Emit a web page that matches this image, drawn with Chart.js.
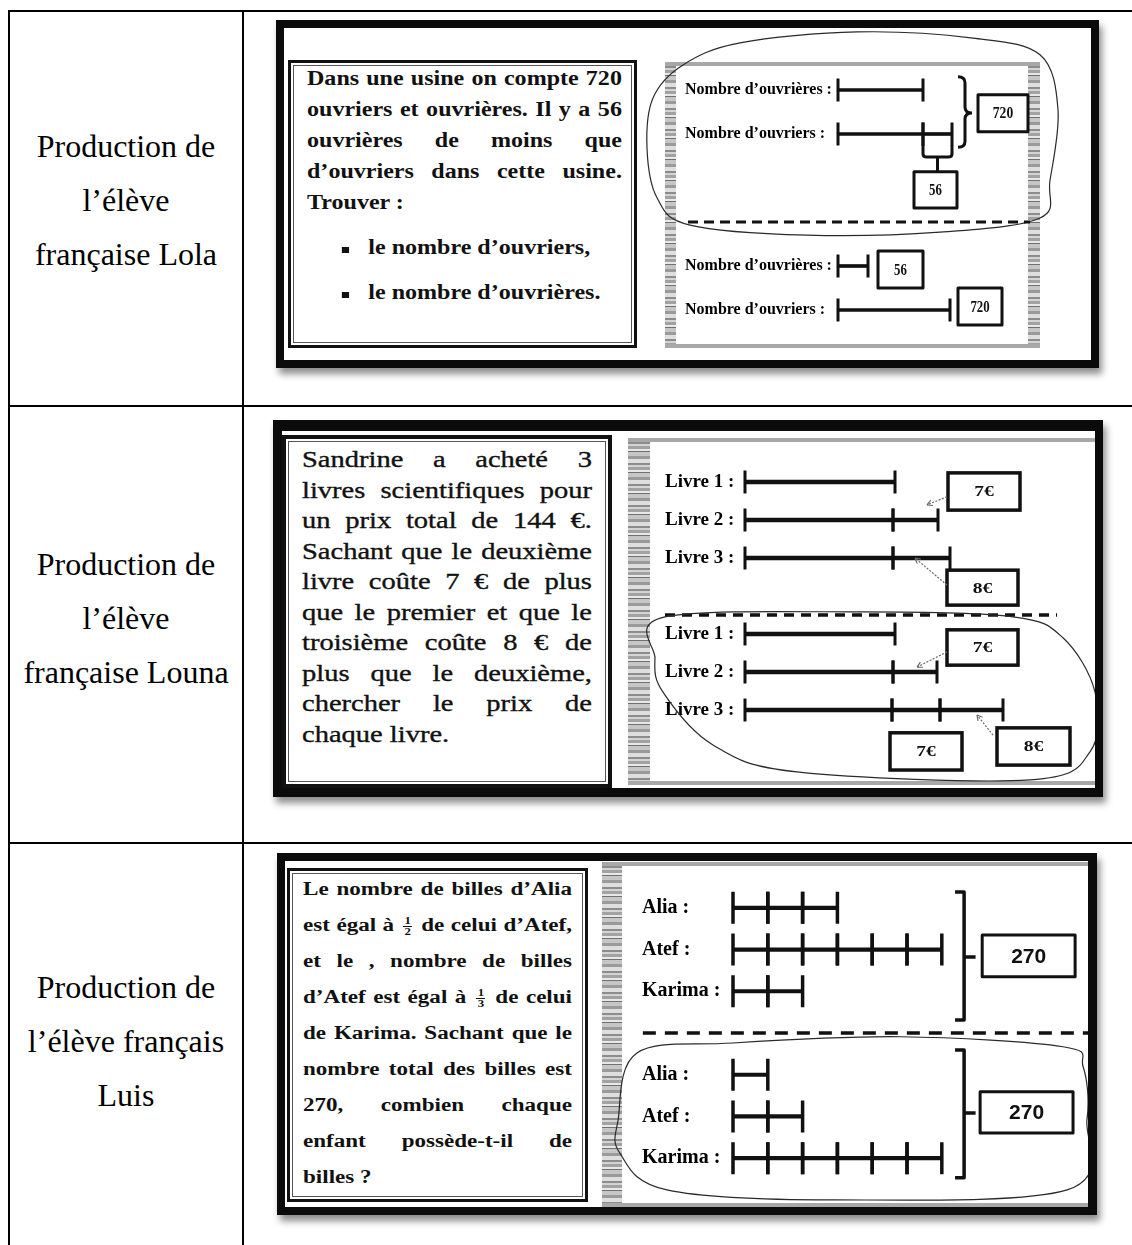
<!DOCTYPE html>
<html lang="fr">
<head>
<meta charset="UTF-8">
<title>Productions d'élèves</title>
<script src="https://cdn.jsdelivr.net/npm/chart.js"></script>
<style>
  body { margin: 0; background: #fff; width: 1132px; height: 1245px; overflow: hidden; position: relative;
         font-family: 'Liberation Serif', 'Times New Roman', serif; color: #000; }
  .abs { position: absolute; box-sizing: border-box; }
  .hl { position: absolute; height: 2px; background: #000; }
  .vl { position: absolute; width: 2px; background: #000; }
  .label { position: absolute; left: 10px; width: 232px; text-align: center; font-size: 32px; line-height: 54px; }
  .frame { border: 8px solid #0b0b0b; box-shadow: 3px 6px 7px rgba(0,0,0,0.45); background: #fff; }
  .tbox { border: 3px solid #111; box-shadow: inset 0 0 0 2px #fff, inset 0 0 0 3px #555; background: #fff; }
  .panel { background: #fff; border-top: 4px solid #a8a8a8; border-bottom: 4px solid #a8a8a8; }
  .strip { position: absolute; top: 0; bottom: 0;
           background: repeating-linear-gradient(180deg, #8c8c8c 0 2px, #d4d4d4 2px 4px, #a2a2a2 4px 7px,
                       #e8e8e8 7px 9px, #707070 9px 10px, #c6c6c6 10px 14px, #9a9a9a 14px 17px, #dedede 17px 21px); }
  .txt { position: absolute; transform-origin: 0 0; color: #111; }
  .txt .j { text-align: justify; text-align-last: justify; }
  .frac { display: inline-block; vertical-align: middle; font-size: 10px; line-height: 10px; text-align: center; margin: 0 2px; }
  .frac span { display: block; padding: 0 1px; }
  .frac span:first-child { border-bottom: 1px solid #111; }
  .bullet { position: absolute; width: 6px; height: 6px; background: #111; }
  .plot { position: absolute; }
</style>
</head>
<body>
  <!-- table lines -->
  <div class="hl" style="left:8px;top:10px;width:1124px"></div>
  <div class="hl" style="left:8px;top:405px;width:1124px"></div>
  <div class="hl" style="left:8px;top:842px;width:1124px"></div>
  <div class="vl" style="left:8px;top:10px;height:1235px"></div>
  <div class="vl" style="left:242px;top:10px;height:1235px"></div>

  <div class="label" style="top:119px"><div>Production de</div><div>l’élève</div><div>française Lola</div></div>
  <div class="label" style="top:537px"><div>Production de</div><div>l’élève</div><div>française Louna</div></div>
  <div class="label" style="top:960px"><div>Production de</div><div>l’élève français</div><div>Luis</div></div>

  <!-- Lola -->
  <div class="abs frame" style="left:276px;top:20px;width:823px;height:348px"></div>
  <div class="abs tbox" style="left:288px;top:60px;width:349px;height:288px"></div>
  <div class="abs panel" style="left:665px;top:62px;width:375px;height:286px">
    <div class="strip" style="left:0;width:11px"></div>
    <div class="strip" style="right:0;width:12px"></div>
  </div>
  <div class="txt" style="left:307px;top:63px;width:262px;font-weight:bold;font-size:20px;line-height:31px;transform:scaleX(1.202)">
    <div class="j">Dans une usine on compte 720</div>
    <div class="j">ouvriers et ouvrières. Il y a 56</div>
    <div class="j">ouvrières de moins que</div>
    <div class="j">d’ouvriers dans cette usine.</div>
    <div>Trouver :</div>
    <div style="position:relative;margin-top:14px;padding-left:51px"><span class="bullet" style="left:29px;top:15px"></span>le nombre d’ouvriers,</div>
    <div style="position:relative;margin-top:14px;padding-left:51px"><span class="bullet" style="left:29px;top:15px"></span>le nombre d’ouvrières.</div>
  </div>
  <div class="plot" style="left:640px;top:28px;width:452px;height:332px"><canvas id="lola"></canvas></div>

  <!-- Louna -->
  <div class="abs frame" style="left:273px;top:420px;width:830px;height:377px;border-width:11px 8px 9px 9px"></div>
  <div class="abs tbox" style="left:282px;top:435px;width:330px;height:353px;border-width:4px"></div>
  <div class="abs panel" style="left:628px;top:438px;width:467px;height:347px">
    <div class="strip" style="left:0;width:22px"></div>
  </div>
  <div class="txt" style="left:302px;top:445px;width:234px;font-size:23px;line-height:30.5px;-webkit-text-stroke:0.35px #111;transform:scaleX(1.239)">
    <div class="j">Sandrine a acheté 3</div>
    <div class="j">livres scientifiques pour</div>
    <div class="j">un prix total de 144 €.</div>
    <div class="j">Sachant que le deuxième</div>
    <div class="j">livre coûte 7 € de plus</div>
    <div class="j">que le premier et que le</div>
    <div class="j">troisième coûte 8 € de</div>
    <div class="j">plus que le deuxième,</div>
    <div class="j">chercher le prix de</div>
    <div>chaque livre.</div>
  </div>
  <div class="plot" style="left:628px;top:436px;width:467px;height:352px"><canvas id="louna"></canvas></div>

  <!-- Luis -->
  <div class="abs frame" style="left:277px;top:853px;width:820px;height:362px;border-right-width:9px"></div>
  <div class="abs tbox" style="left:287px;top:868px;width:301px;height:334px"></div>
  <div class="abs panel" style="left:602px;top:862px;width:486px;height:345px">
    <div class="strip" style="left:0;width:20px"></div>
  </div>
  <div class="txt" style="left:303px;top:871px;width:210px;font-weight:bold;font-size:18px;line-height:36px;transform:scaleX(1.281)">
    <div class="j">Le nombre de billes d’Alia</div>
    <div class="j">est égal à <span class="frac"><span>1</span><span>2</span></span> de celui d’Atef,</div>
    <div class="j">et le , nombre de billes</div>
    <div class="j">d’Atef est égal à <span class="frac"><span>1</span><span>3</span></span> de celui</div>
    <div class="j">de Karima. Sachant que le</div>
    <div class="j">nombre total des billes est</div>
    <div class="j">270, combien chaque</div>
    <div class="j">enfant possède-t-il de</div>
    <div>billes ?</div>
  </div>
  <div class="plot" style="left:605px;top:864px;width:483px;height:343px"><canvas id="luis"></canvas></div>

<script>
const INK = '#111111';

// Lola : longueurs des segments dessinés (unités du dessin)
const lolaRows = ['Nombre d’ouvrières :', 'Nombre d’ouvriers :', '', '', 'Nombre d’ouvrières :', 'Nombre d’ouvriers :'];
const lolaSegments = [[85], [85, 29], [], [], [30], [112]];
const lolaBoxes = ['720', '56', '56', '720'];

// Louna
const lounaRows = ['Livre 1 :', 'Livre 2 :', 'Livre 3 :', '', 'Livre 1 :', 'Livre 2 :', 'Livre 3 :', ''];
const lounaSegments = [[150], [148, 45], [148, 57], [], [150], [148, 44], [147, 48, 63], []];
const lounaBoxes = ['7€', '8€', '7€', '7€', '8€'];

// Luis : segments en parts égales
const luisRows = ['Alia :', 'Atef :', 'Karima :', '', 'Alia :', 'Atef :', 'Karima :'];
const luisSegments = [[1, 1, 1], [1, 1, 1, 1, 1, 1], [1, 1], [], [1], [1, 1], [1, 1, 1, 1, 1, 1]];
const luisBoxes = ['270', '270'];

// one floating-bar dataset per segment position
function toBars(segs, thick) {
  const n = Math.max(...segs.map(s => s.length));
  const sets = [];
  for (let k = 0; k < n; k++) {
    sets.push({
      data: segs.map(s => {
        if (k >= s.length) return null;
        const a = s.slice(0, k).reduce((p, q) => p + q, 0);
        return [a, a + s[k]];
      }),
      backgroundColor: INK,
      borderWidth: 0,
      barThickness: thick,
      grouped: false
    });
  }
  return sets;
}

function segTicks(half, width) {
  return {
    id: 'segTicks',
    afterDatasetsDraw(chart) {
      const ctx = chart.ctx;
      ctx.save();
      ctx.strokeStyle = INK;
      ctx.lineWidth = width;
      chart.data.datasets.forEach((ds, i) => {
        chart.getDatasetMeta(i).data.forEach((bar, j) => {
          if (!ds.data[j]) return;
          ctx.beginPath();
          [bar.base, bar.x].forEach(px => { ctx.moveTo(px, bar.y - half); ctx.lineTo(px, bar.y + half); });
          ctx.stroke();
        });
      });
      ctx.restore();
    }
  };
}

function smooth(ctx, p) {
  const n = p.length;
  ctx.moveTo(p[0][0], p[0][1]);
  for (let i = 0; i < n; i++) {
    const p0 = p[(i - 1 + n) % n], p1 = p[i], p2 = p[(i + 1) % n], p3 = p[(i + 2) % n];
    ctx.bezierCurveTo(p1[0] + (p2[0] - p0[0]) / 6, p1[1] + (p2[1] - p0[1]) / 6,
                      p2[0] - (p3[0] - p1[0]) / 6, p2[1] - (p3[1] - p1[1]) / 6, p2[0], p2[1]);
  }
}

const draw = {
  box(ctx, it, X, Y) {
    const x1 = X(it.u[0]), x2 = X(it.u[1]), y1 = Y(it.r[0]), y2 = Y(it.r[1]);
    ctx.strokeStyle = INK; ctx.lineWidth = it.lw || 3;
    ctx.strokeRect(x1, y1, x2 - x1, y2 - y1);
    ctx.save();
    ctx.translate((x1 + x2) / 2, (y1 + y2) / 2);
    ctx.scale(it.sx || 1, 1);
    ctx.font = it.font; ctx.fillStyle = INK; ctx.textAlign = 'center'; ctx.textBaseline = 'middle';
    ctx.fillText(it.text, 0, 1);
    ctx.restore();
  },
  brace(ctx, it, X, Y) {
    const x = X(it.u), hx = X(it.hook), tx = X(it.tip), y1 = Y(it.r[0]), y2 = Y(it.r[1]), ym = Y(it.rm);
    ctx.strokeStyle = INK; ctx.lineWidth = it.lw; ctx.lineJoin = 'round';
    ctx.beginPath();
    if (it.style === 'curly') {
      ctx.moveTo(hx, y1); ctx.quadraticCurveTo(x, y1, x, y1 + 6); ctx.lineTo(x, ym - 6);
      ctx.quadraticCurveTo(x, ym, tx, ym); ctx.moveTo(tx, ym); ctx.quadraticCurveTo(x, ym, x, ym + 6);
      ctx.lineTo(x, y2 - 6); ctx.quadraticCurveTo(x, y2, hx, y2);
    } else {
      ctx.moveTo(hx, y1); ctx.lineTo(x, y1); ctx.lineTo(x, y2); ctx.lineTo(hx, y2);
      ctx.moveTo(x, ym); ctx.lineTo(tx, ym);
    }
    ctx.stroke();
  },
  cup(ctx, it, X, Y) {
    const xa = X(it.u[0]), xb = X(it.u[1]), ya = Y(it.r[0]), yb = Y(it.r[1]), ys = Y(it.stem), xm = (xa + xb) / 2;
    ctx.strokeStyle = INK; ctx.lineWidth = it.lw;
    ctx.beginPath();
    ctx.moveTo(xa, ya); ctx.lineTo(xa, yb - 3); ctx.quadraticCurveTo(xa, yb, xa + 4, yb);
    ctx.lineTo(xb - 4, yb); ctx.quadraticCurveTo(xb, yb, xb, yb - 3); ctx.lineTo(xb, ya);
    ctx.moveTo(xm, yb); ctx.lineTo(xm, ys);
    ctx.stroke();
  },
  dash(ctx, it, X, Y) {
    ctx.strokeStyle = INK; ctx.lineWidth = it.lw; ctx.setLineDash(it.dash);
    ctx.beginPath(); ctx.moveTo(X(it.u[0]), Y(it.r)); ctx.lineTo(X(it.u[1]), Y(it.r)); ctx.stroke();
    ctx.setLineDash([]);
  },
  loop(ctx, it, X, Y) {
    const p = it.pts.map(([u, r]) => [X(u), Y(r)]);
    ctx.strokeStyle = '#2a2a2a'; ctx.lineWidth = 1.2;
    ctx.beginPath(); smooth(ctx, p); ctx.stroke();
  },
  arrow(ctx, it, X, Y) {
    const x1 = X(it.from[0]), y1 = Y(it.from[1]), x2 = X(it.to[0]), y2 = Y(it.to[1]);
    const a = Math.atan2(y2 - y1, x2 - x1);
    ctx.strokeStyle = '#6a6a6a'; ctx.lineWidth = 1.2;
    ctx.setLineDash([2, 1.5]);
    ctx.beginPath(); ctx.moveTo(x1, y1); ctx.lineTo(x2, y2); ctx.stroke();
    ctx.setLineDash([]);
    ctx.beginPath();
    [0.5, -0.5].forEach(d => { ctx.moveTo(x2, y2); ctx.lineTo(x2 - 6 * Math.cos(a + d), y2 - 6 * Math.sin(a + d)); });
    ctx.stroke();
  }
};

function notesPlugin(items) {
  return {
    id: 'notes',
    afterDraw(chart) {
      const { ctx, scales: { x, y } } = chart;
      const X = u => x.getPixelForValue(u), Y = r => y.getPixelForValue(r);
      ctx.save();
      items.forEach(it => draw[it.t](ctx, it, X, Y));
      ctx.restore();
    }
  };
}

function diagram(id, rows, segs, o, notes) {
  return new Chart(document.getElementById(id), {
    type: 'bar',
    data: { labels: rows, datasets: toBars(segs, o.thick) },
    options: {
      indexAxis: 'y',
      responsive: true,
      maintainAspectRatio: false,
      animation: false,
      events: [],
      layout: { padding: o.pad },
      plugins: { legend: { display: false }, tooltip: { enabled: false } },
      scales: {
        x: { type: 'linear', display: false, min: 0, max: o.max },
        y: {
          grid: { display: false },
          border: { display: false },
          ticks: { crossAlign: 'far', autoSkip: false, color: '#000',
                   font: { family: "'Liberation Serif', 'Times New Roman', serif", weight: 'bold', size: o.font } },
          afterFit(scale) { scale.width = o.axisW; }
        }
      }
    },
    plugins: [segTicks(o.half, o.tickW), notesPlugin(notes)]
  });
}

const serifBox = 'bold 16px "Liberation Serif"';

diagram('lola', lolaRows, lolaSegments,
  { thick: 3, half: 11.5, tickW: 3, font: 16, axisW: 153, max: 252, pad: { left: 45, right: 2, top: 40, bottom: 28 } },
  [
    { t: 'loop', pts: [[-98, -1.07], [19, -1.32], [135, -1.18], [202, -0.8], [220, 0.45], [212, 2.05], [202, 2.91],
                       [102, 3.23], [-31, 3.3], [-148, 3.07], [-181, 2.45], [-191, 1.32], [-185, 0.18], [-155, -0.57]] },
    { t: 'brace', style: 'curly', u: 127, hook: 120, tip: 134, r: [-0.3, 1.3], rm: 0.52, lw: 3 },
    { t: 'box', u: [140, 190], r: [0.11, 0.95], text: lolaBoxes[0], font: serifBox, sx: 0.85, lw: 3 },
    { t: 'cup', u: [85, 114], r: [1.25, 1.52], stem: 1.86, lw: 3 },
    { t: 'box', u: [76, 119], r: [1.86, 2.68], text: lolaBoxes[1], font: serifBox, sx: 0.8, lw: 3 },
    { t: 'dash', u: [-150, 192], r: 3, dash: [10, 6], lw: 3 },
    { t: 'box', u: [40, 85], r: [3.66, 4.5], text: lolaBoxes[2], font: serifBox, sx: 0.8, lw: 3 },
    { t: 'box', u: [120, 164], r: [4.5, 5.34], text: lolaBoxes[3], font: serifBox, sx: 0.8, lw: 3 }
  ]);

const euroBox = 'bold 15px "Liberation Serif"';

diagram('louna', lounaRows, lounaSegments,
  { thick: 4, half: 11.5, tickW: 3, font: 19, axisW: 80, max: 350, pad: { left: 37, right: 0, top: 27, bottom: 21 } },
  [
    { t: 'box', u: [203, 275], r: [-0.24, 0.74], text: lounaBoxes[0], font: euroBox, sx: 1.3, lw: 3.5 },
    { t: 'arrow', from: [202, 0.39], to: [182, 0.6] },
    { t: 'box', u: [202, 273], r: [2.32, 3.24], text: lounaBoxes[1], font: euroBox, sx: 1.3, lw: 3.5 },
    { t: 'arrow', from: [202, 2.71], to: [170, 2.0] },
    { t: 'dash', u: [-80, 312], r: 3.5, dash: [10, 7], lw: 3.5 },
    { t: 'box', u: [202, 273], r: [3.89, 4.82], text: lounaBoxes[2], font: euroBox, sx: 1.3, lw: 3.5 },
    { t: 'arrow', from: [202, 4.47], to: [172, 4.87] },
    { t: 'box', u: [145, 217], r: [6.6, 7.58], text: lounaBoxes[3], font: euroBox, sx: 1.3, lw: 3.5 },
    { t: 'box', u: [252, 325], r: [6.47, 7.45], text: lounaBoxes[4], font: euroBox, sx: 1.3, lw: 3.5 },
    { t: 'arrow', from: [248, 6.66], to: [232, 6.13] },
    { t: 'loop', pts: [[-80, 3.55], [-90, 4.63], [-82, 5.53], [-32, 6.92], [52, 7.63], [285, 7.84], [345, 7.1],
                       [350, 5.53], [318, 4.1], [268, 3.55], [118, 3.42]] }
  ]);

const sansBox = 'bold 21px "Liberation Sans"';

diagram('luis', luisRows, luisSegments,
  { thick: 3.5, half: 16, tickW: 3.5, font: 20, axisW: 91, max: 10.2, pad: { left: 37, right: 0, top: 23, bottom: 28 } },
  [
    { t: 'brace', style: 'square', u: 6.64, hook: 6.38, tip: 6.97, r: [-0.38, 2.69], rm: 1.18, lw: 3.5 },
    { t: 'box', u: [7.16, 9.83], r: [0.65, 1.65], text: luisBoxes[0], font: sansBox, lw: 3 },
    { t: 'dash', u: [-2.59, 10.2], r: 3, dash: [13, 9], lw: 3.5 },
    { t: 'loop', pts: [[-2.76, 3.48], [0, 3.24], [4.8, 3.09], [9.48, 3.33], [10.06, 3.81], [10.17, 5.08], [9.6, 6.76],
                       [2.87, 7.0], [-1.9, 6.76], [-3.25, 5.88], [-3.3, 5.08]] },
    { t: 'brace', style: 'square', u: 6.64, hook: 6.38, tip: 6.97, r: [3.41, 6.47], rm: 4.92, lw: 3.5 },
    { t: 'box', u: [7.1, 9.77], r: [4.41, 5.4], text: luisBoxes[1], font: sansBox, lw: 3 }
  ]);
</script>
</body>
</html>
